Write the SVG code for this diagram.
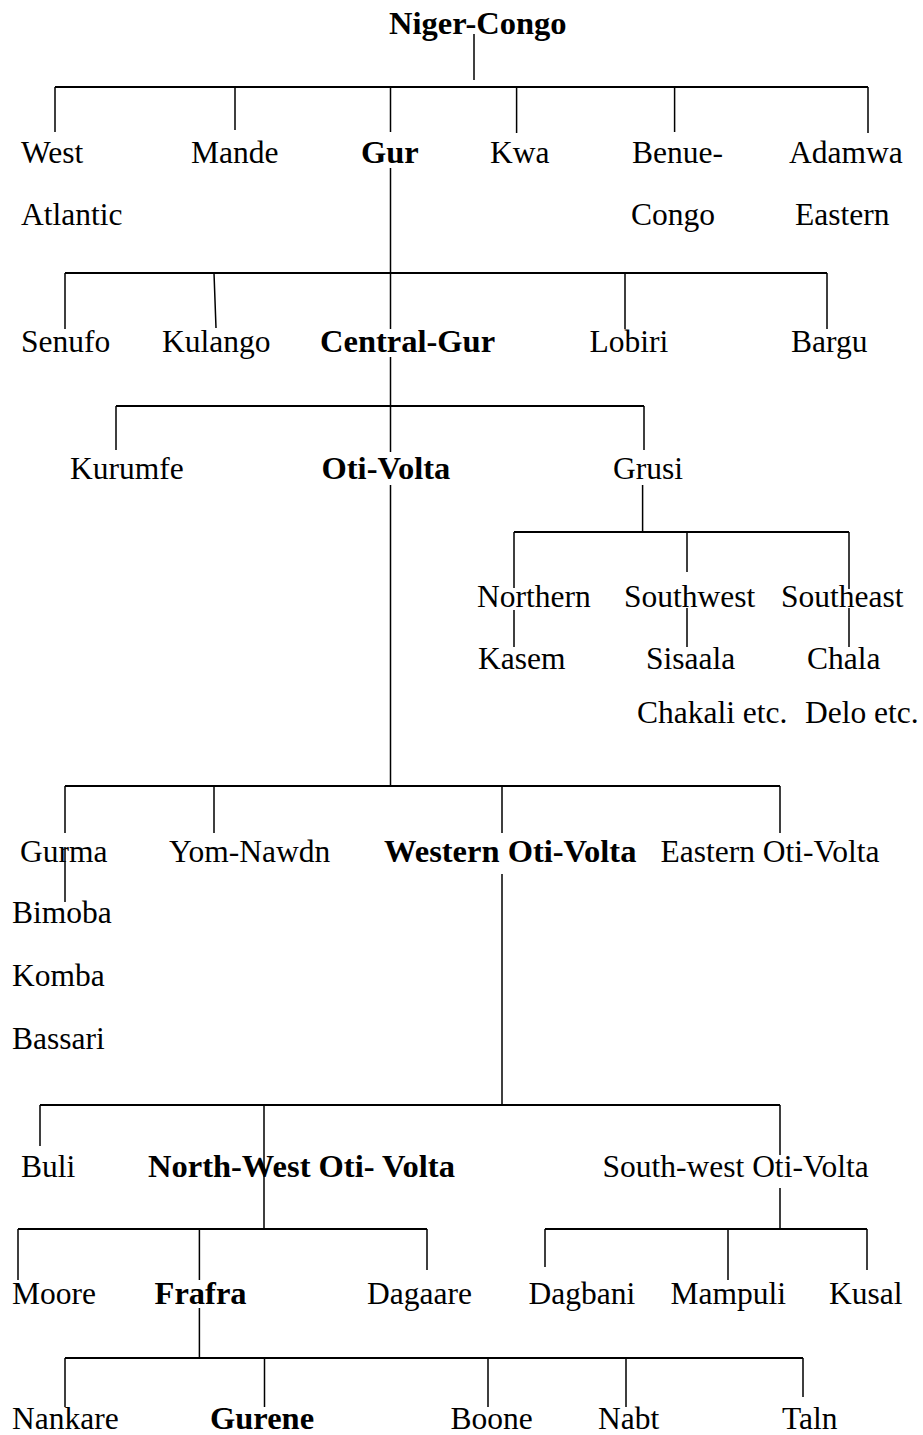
<svg xmlns="http://www.w3.org/2000/svg" width="923" height="1435" viewBox="0 0 923 1435">
<style>
text{font-family:"Liberation Serif","Times New Roman",serif;font-size:31.5px;fill:#000}
.b{font-weight:bold;font-size:32.5px}
.v{stroke:#000;stroke-width:1.5;fill:none}
.h{stroke:#000;stroke-width:2;fill:none}
</style>
<rect width="923" height="1435" fill="#fff"/>
<g id="connectors">
<path class="v" d="M474,34V80"/>
<path class="h" d="M55,87H868"/>
<path class="v" d="M55,87V132M235,87V130M390.5,87V132M516.6,87V133M674.6,87V132M868,87V133"/>
<path class="v" d="M390.5,168V329"/>
<path class="h" d="M65,273H827"/>
<path class="v" d="M65,273V329M214,273L216,328M625,273V329M827,273V329"/>
<path class="v" d="M390.5,357V452"/>
<path class="h" d="M116,406H644"/>
<path class="v" d="M116,406V450M644,406V450"/>
<path class="v" d="M642.6,485V532"/>
<path class="h" d="M514,532H849"/>
<path class="v" d="M514,532V588M687,532V572M849,532V589"/>
<path class="v" d="M514,610V647M687,608V647M849,608V647"/>
<path class="v" d="M390.5,485V786"/>
<path class="h" d="M65,786H780"/>
<path class="v" d="M65,786V833M214,786V833M502,786V833M780,786V833"/>
<path class="v" d="M65,847V902"/>
<path class="v" d="M502,874V1105"/>
<path class="h" d="M40,1105H780"/>
<path class="v" d="M40,1105V1146M264,1105V1229M780,1105V1155M780,1188V1229"/>
<path class="h" d="M18,1229H427M545,1229H867"/>
<path class="v" d="M18,1229V1280M199.4,1229V1280M427,1229V1270M545,1229V1267M728,1229V1280M867,1229V1270"/>
<path class="v" d="M199.4,1308V1358"/>
<path class="h" d="M65,1358H803"/>
<path class="v" d="M65,1358V1407M264.5,1358V1407M488,1358V1407M626,1358V1407M803,1358V1397"/>
</g>
<g id="niger-congo"><text class="b" x="389" y="34">Niger-Congo</text></g>
<g id="west-atlantic"><text x="21" y="163">West</text><text x="21" y="225">Atlantic</text></g>
<g id="mande"><text x="191" y="163">Mande</text></g>
<g id="gur"><text class="b" x="361" y="163">Gur</text></g>
<g id="kwa"><text x="490" y="163">Kwa</text></g>
<g id="benue-congo"><text x="632" y="163">Benue-</text><text x="631" y="225">Congo</text></g>
<g id="adamwa-eastern"><text x="789" y="163">Adamwa</text><text x="795" y="225">Eastern</text></g>
<g id="senufo"><text x="21" y="352">Senufo</text></g>
<g id="kulango"><text x="162" y="352">Kulango</text></g>
<g id="central-gur"><text class="b" x="320" y="352">Central-Gur</text></g>
<g id="lobiri"><text x="589.5" y="352">Lobiri</text></g>
<g id="bargu"><text x="791" y="352">Bargu</text></g>
<g id="kurumfe"><text x="70" y="479">Kurumfe</text></g>
<g id="oti-volta"><text class="b" x="321.5" y="479">Oti-Volta</text></g>
<g id="grusi"><text x="613" y="479">Grusi</text></g>
<g id="northern"><text x="477" y="607">Northern</text></g>
<g id="southwest"><text x="624" y="607">Southwest</text></g>
<g id="southeast"><text x="781" y="607">Southeast</text></g>
<g id="kasem"><text x="478" y="669">Kasem</text></g>
<g id="sisaala"><text x="646" y="669">Sisaala</text><text x="637" y="723">Chakali etc.</text></g>
<g id="chala"><text x="807" y="669">Chala</text><text x="805" y="723">Delo etc.</text></g>
<g id="gurma"><text x="20" y="862">Gurma</text><text x="12" y="923">Bimoba</text><text x="12" y="986">Komba</text><text x="12" y="1049">Bassari</text></g>
<g id="yom-nawdn"><text x="169" y="862">Yom-Nawdn</text></g>
<g id="western-oti-volta"><text class="b" x="384" y="862">Western Oti-Volta</text></g>
<g id="eastern-oti-volta"><text x="660.5" y="862">Eastern Oti-Volta</text></g>
<g id="buli"><text x="21" y="1177">Buli</text></g>
<g id="north-west-oti-volta"><text class="b" x="148" y="1177">North-West Oti- Volta</text></g>
<g id="south-west-oti-volta"><text x="602.5" y="1177">South-west Oti-Volta</text></g>
<g id="moore"><text x="12" y="1304">Moore</text></g>
<g id="frafra"><text class="b" x="154.6" y="1304">Frafra</text></g>
<g id="dagaare"><text x="367" y="1304">Dagaare</text></g>
<g id="dagbani"><text x="528.6" y="1304">Dagbani</text></g>
<g id="mampuli"><text x="670.6" y="1304">Mampuli</text></g>
<g id="kusal"><text x="829" y="1304">Kusal</text></g>
<g id="nankare"><text x="12" y="1429">Nankare</text></g>
<g id="gurene"><text class="b" x="210" y="1429">Gurene</text></g>
<g id="boone"><text x="450.5" y="1429">Boone</text></g>
<g id="nabt"><text x="598" y="1429">Nabt</text></g>
<g id="taln"><text x="782" y="1429">Taln</text></g>
</svg>
